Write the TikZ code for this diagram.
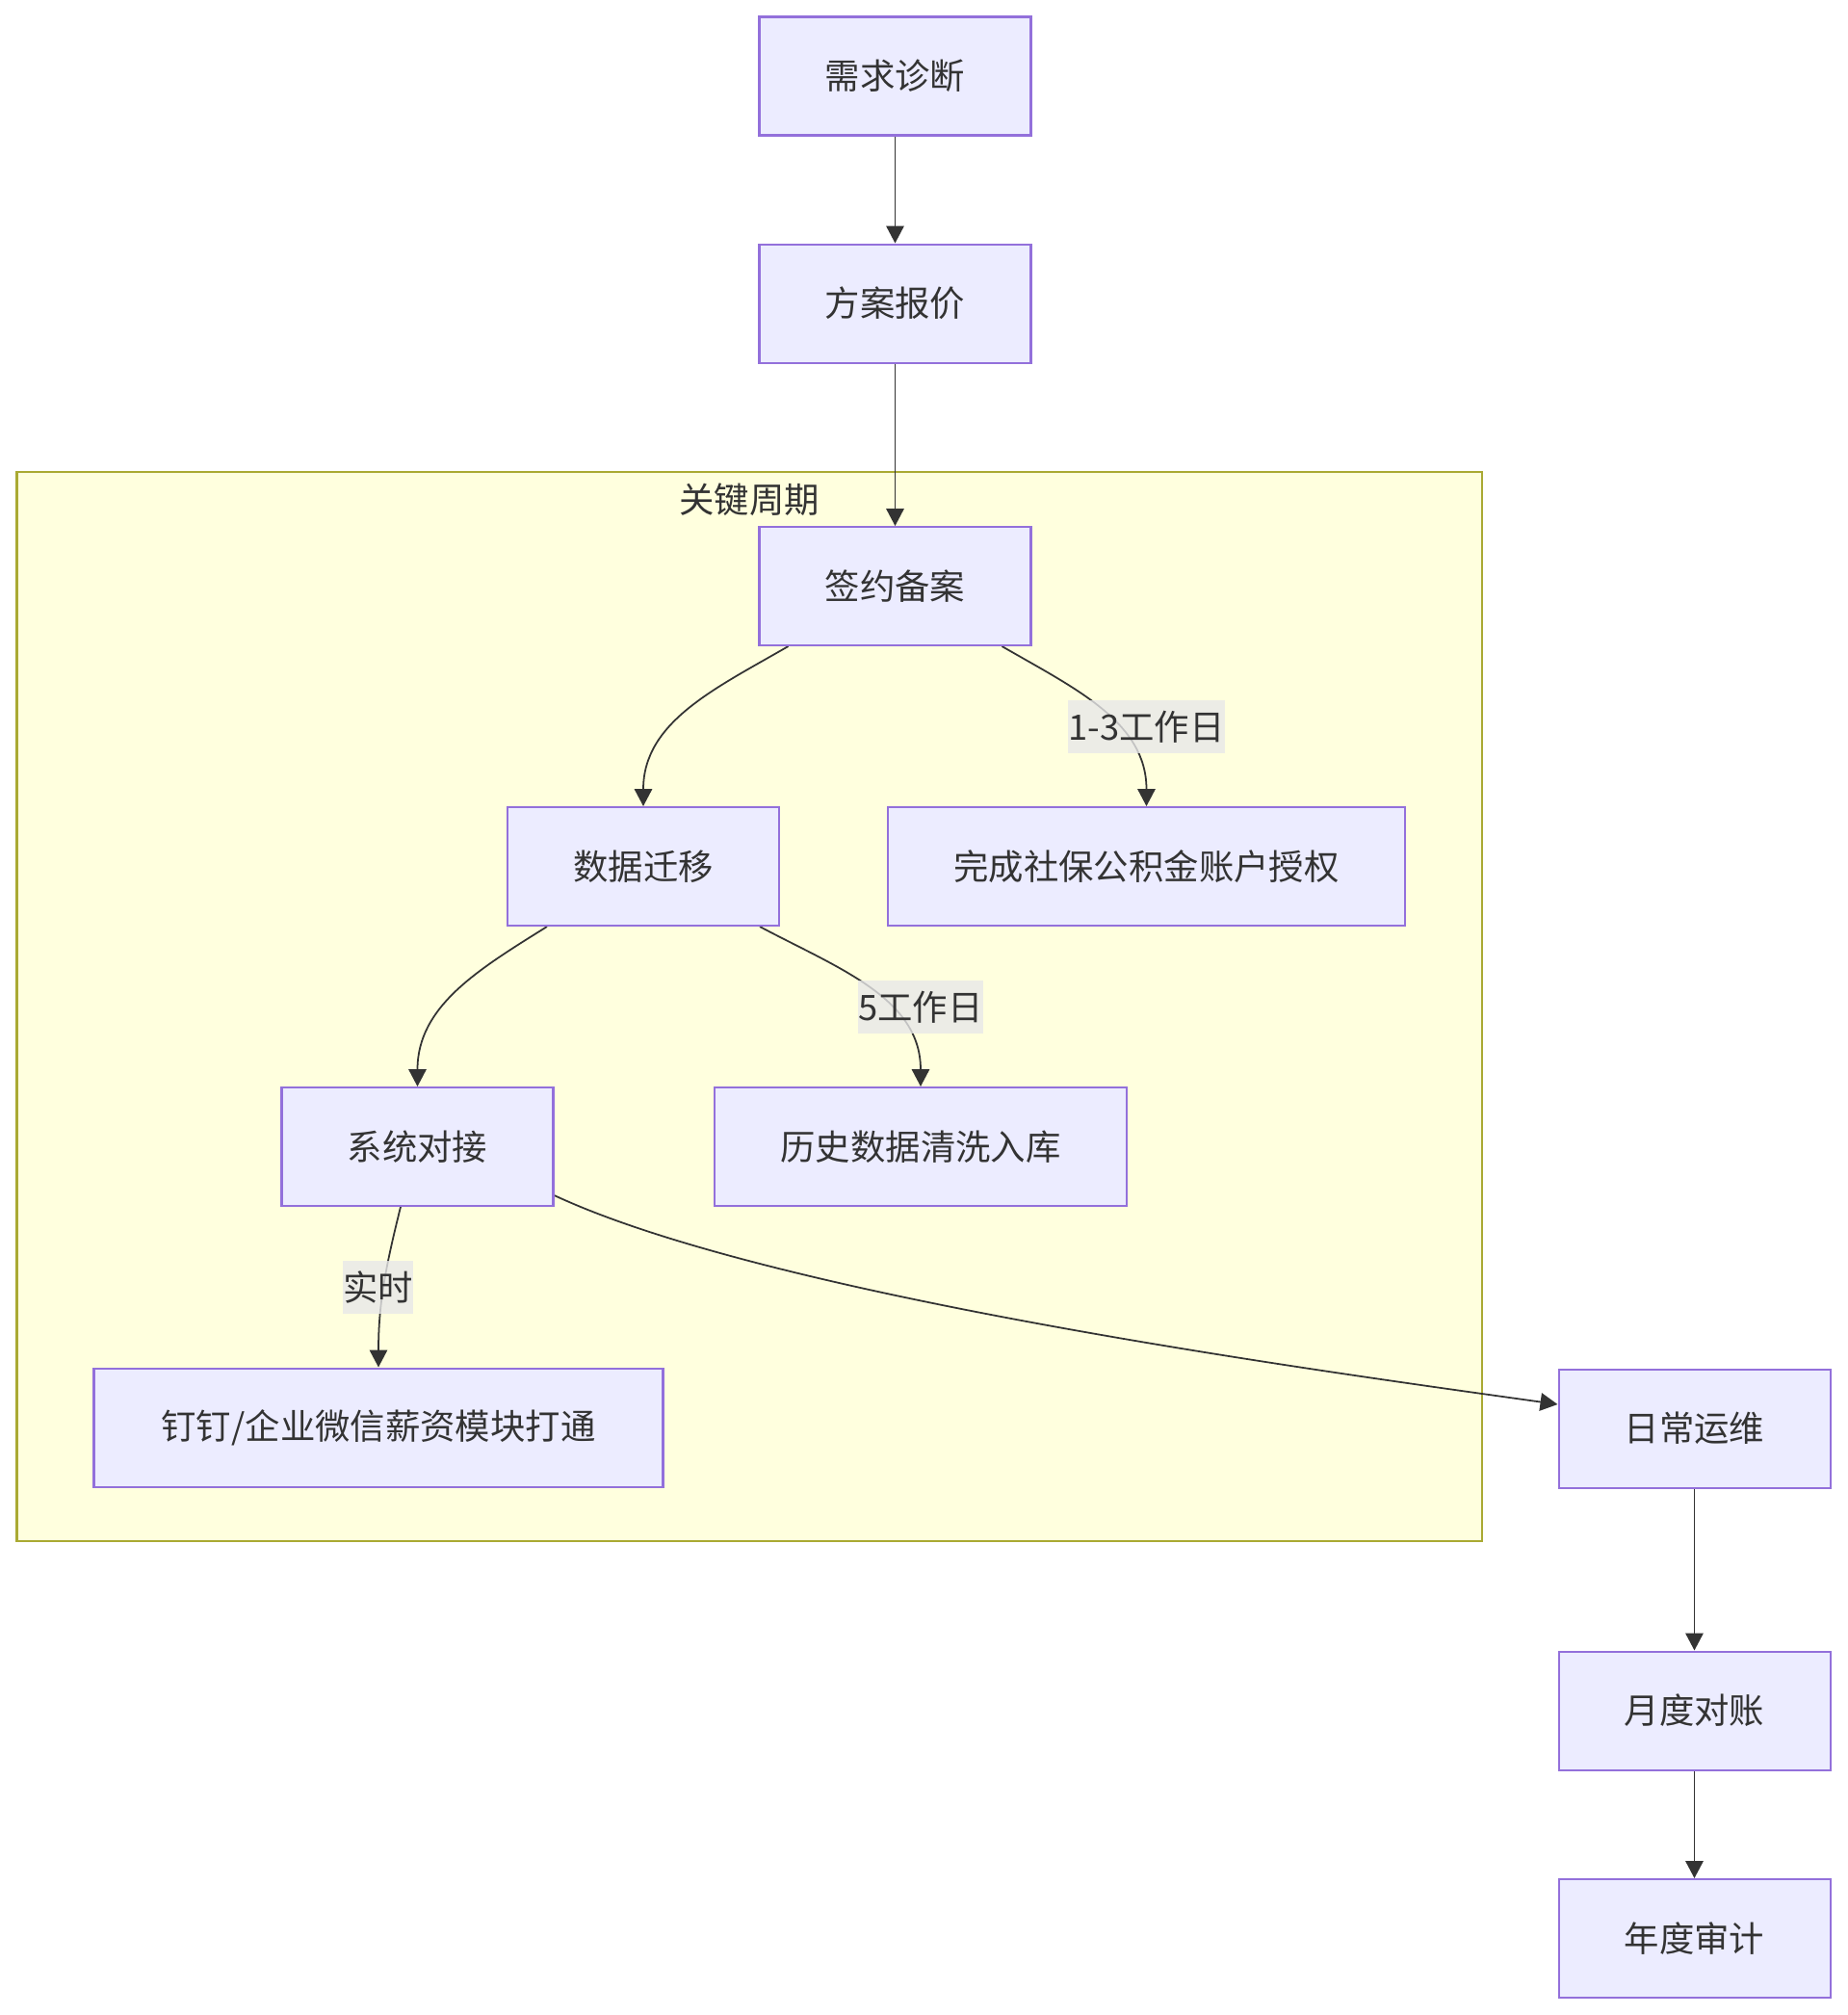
\documentclass[tikz,border=0pt]{standalone}
\usepackage{fontspec}
\setmainfont{Noto Sans CJK SC}
\usepackage{xcolor}
\usepackage{tikz}
\usetikzlibrary{arrows.meta}
\definecolor{boxfill}{HTML}{ECECFF}
\definecolor{boxline}{HTML}{9370DB}
\definecolor{clusterfill}{HTML}{FFFFDE}
\definecolor{clusterline}{HTML}{AAAA33}
\definecolor{inkgray}{HTML}{333333}
\definecolor{labelfill}{HTML}{E8E8E8}
\newcommand{\flowfont}{\fontsize{20.7}{25}\selectfont}
\tikzstyle{stage}=[rectangle,fill=boxfill,draw=boxline,line width=1.150,text=inkgray,minimum width=5.64cm,minimum height=2.46cm,inner sep=0pt,font=\flowfont]
\tikzstyle{flow}=[->,>={Triangle[length=0.36cm,width=0.37cm]},draw=inkgray,line width=1.000]
\tikzstyle{edgelabel}=[rectangle,fill=labelfill,fill opacity=0.8,text opacity=1,text=inkgray,inner xsep=0pt,inner ysep=0pt,minimum height=1.1cm,font=\flowfont]
\tikzstyle{cluster}=[fill=clusterfill,draw=clusterline,line width=1.150]
\tikzstyle{title}=[text=inkgray,inner sep=0pt,font=\flowfont]
\tikzstyle{none}=[inner sep=0pt]
\pgfdeclarelayer{clusterlayer}
\pgfdeclarelayer{edgelayer}
\pgfdeclarelayer{nodelayer}
\pgfsetlayers{clusterlayer,edgelayer,nodelayer,main}
\begin{document}
\begin{tikzpicture}
	\useasboundingbox (0, 0) rectangle (38.38, -41.84);
	\begin{pgfonlayer}{nodelayer}
		\node [style=stage] (qiu) at (18.59, -1.58) {需求诊断};
		\node [style=stage] (fang) at (18.59, -6.30) {方案报价};

		\node [style=none] (Ktl) at (0.35, -9.80) {};
		\node [style=none] (Kbr) at (30.78, -32.00) {};
		\node [style=title] (K) at (15.56, -10.38) {关键周期};

		\node [style=stage] (qian) at (18.59, -12.17) {签约备案};
		\node [style=stage] (shuju) at (13.36, -17.99) {数据迁移};
		\node [style=stage, minimum width=10.73cm] (shebao) at (23.81, -17.99) {完成社保公积金账户授权};
		\node [style=stage] (xitong) at (8.67, -23.81) {系统对接};
		\node [style=stage, minimum width=8.57cm] (lishi) at (19.12, -23.81) {历史数据清洗入库};
		\node [style=stage, minimum width=11.82cm] (dingding) at (7.86, -29.64) {钉钉/企业微信薪资模块打通};

		\node [style=edgelabel] (l13) at (23.81, -15.09) {1-3工作日};
		\node [style=edgelabel] (l5) at (19.12, -20.91) {5工作日};
		\node [style=edgelabel] (lrt) at (7.85, -26.73) {实时};

		\node [style=stage] (richang) at (35.19, -29.66) {日常运维};
		\node [style=stage] (yuedu) at (35.19, -35.52) {月度对账};
		\node [style=stage] (niandu) at (35.19, -40.25) {年度审计};
	\end{pgfonlayer}
	\begin{pgfonlayer}{clusterlayer}
		\draw [style=cluster] (Ktl.center) rectangle (Kbr.center);
	\end{pgfonlayer}
	\begin{pgfonlayer}{edgelayer}
		\draw [style=flow] (qiu) to (fang);
		\draw [style=flow] (fang) to (qian);
		\draw [style=flow] ([xshift=-2.22cm]qian.south) to [out=-150, in=90] (shuju.north);
		\draw [style=flow] ([xshift=2.22cm]qian.south) to [out=-30, in=90] (shebao.north);
		\draw [style=flow] ([xshift=-2.00cm]shuju.south) to [out=-148, in=90] (xitong.north);
		\draw [style=flow] ([xshift=2.42cm]shuju.south) to [out=-28, in=90] (lishi.north);
		\draw [style=flow] ([xshift=-0.35cm]xitong.south) to [out=-104, in=90] (dingding.north);
		\draw [style=flow] ([yshift=-1.01cm]xitong.east) to [out=-25, in=172, looseness=0.6] ([yshift=0.50cm]richang.west);
		\draw [style=flow] (richang) to (yuedu);
		\draw [style=flow] (yuedu) to (niandu);
	\end{pgfonlayer}
\end{tikzpicture}
\end{document}
